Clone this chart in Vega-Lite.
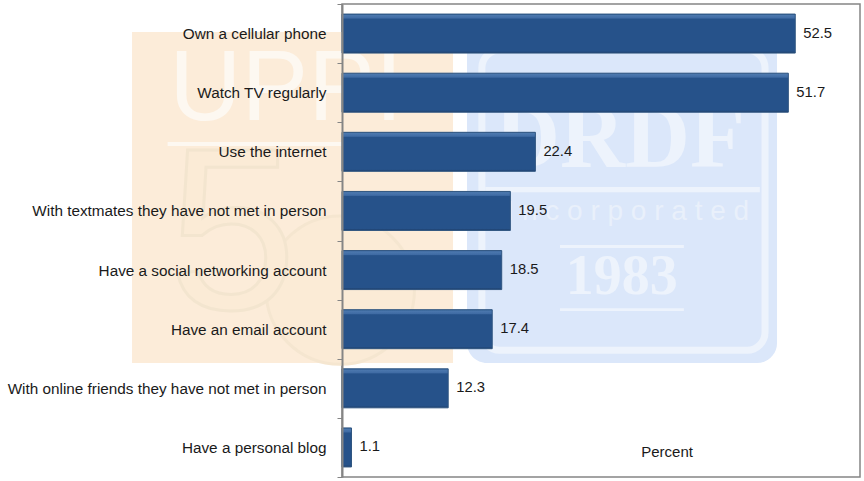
{"$schema":"https://vega.github.io/schema/vega-lite/v6.json","width":518,"height":473,"padding":{"left":342,"top":4,"right":4,"bottom":4},"autosize":"none","background":"white","config":{"font":"Liberation Sans","view":{"stroke":"#858585","strokeWidth":1.5}},"resolve":{"scale":{"y":"independent"}},"layer":[
{"data":{"values":[{"x":-24.32,"x2":12.86,"y":5.9,"y2":75.9}]},"mark":{"type":"rect","color":"#fcecd9"},"encoding":{"x":{"field":"x","type":"quantitative","scale":{"domain":[0,60],"nice":false},"axis":null},"x2":{"field":"x2"},"y":{"field":"y","type":"quantitative","scale":{"domain":[0,100],"reverse":true},"axis":null},"y2":{"field":"y2"}}},
{"data":{"values":[{"x":-0.2,"y":60.5}]},"mark":{"type":"point","filled":true,"fill":"#fbebd6","stroke":"#f5e6d0","strokeWidth":3,"size":22000,"opacity":1},"encoding":{"x":{"field":"x","type":"quantitative","axis":null},"y":{"field":"y","type":"quantitative","scale":{"domain":[0,100],"reverse":true},"axis":null}}},
{"data":{"values":[{"t":"5","x":-12.7,"y":49.9}]},"mark":{"type":"text","fontSize":230,"fill":"#fbebd6","stroke":"#f3e5cf","strokeWidth":3},"encoding":{"x":{"field":"x","type":"quantitative","axis":null},"y":{"field":"y","type":"quantitative","scale":{"domain":[0,100],"reverse":true},"axis":null},"text":{"field":"t"}}},
{"data":{"values":[{"t":"UPPI","x":-6.49,"y":18.2}]},"mark":{"type":"text","fontSize":100,"color":"#fdf8f1"},"encoding":{"x":{"field":"x","type":"quantitative","axis":null},"y":{"field":"y","type":"quantitative","scale":{"domain":[0,100],"reverse":true},"axis":null},"text":{"field":"t"}}},
{"data":{"values":[{"x":-20.2,"x2":6.7,"y":29.2,"y2":30}]},"mark":{"type":"rect","color":"#fdf8f1"},"encoding":{"x":{"field":"x","type":"quantitative","axis":null},"x2":{"field":"x2"},"y":{"field":"y","type":"quantitative","scale":{"domain":[0,100],"reverse":true},"axis":null},"y2":{"field":"y2"}}},
{"data":{"values":[{"x":14.48,"x2":50.39,"y":5.9,"y2":75.9}]},"mark":{"type":"rect","color":"#dbe7fa","cornerRadius":20},"encoding":{"x":{"field":"x","type":"quantitative","axis":null},"x2":{"field":"x2"},"y":{"field":"y","type":"quantitative","scale":{"domain":[0,100],"reverse":true},"axis":null},"y2":{"field":"y2"}}},
{"data":{"values":[{"x":16.2,"x2":49,"y":9.7,"y2":73.2}]},"mark":{"type":"rect","fillOpacity":0,"stroke":"#edf3fc","strokeWidth":7,"cornerRadius":18},"encoding":{"x":{"field":"x","type":"quantitative","axis":null},"x2":{"field":"x2"},"y":{"field":"y","type":"quantitative","scale":{"domain":[0,100],"reverse":true},"axis":null},"y2":{"field":"y2"}}},
{"data":{"values":[{"x":16.6,"x2":48.4,"y":38.7,"y2":39.8},{"x":25.25,"x2":39.6,"y":50.95,"y2":51.6},{"x":25.25,"x2":39.6,"y":64.3,"y2":64.9}]},"mark":{"type":"rect","color":"#edf3fc"},"encoding":{"x":{"field":"x","type":"quantitative","axis":null},"x2":{"field":"x2"},"y":{"field":"y","type":"quantitative","scale":{"domain":[0,100],"reverse":true},"axis":null},"y2":{"field":"y2"}}},
{"data":{"values":[{"t":"DRDF","x":32.2,"y":28.75}]},"mark":{"type":"text","fontSize":90,"fontWeight":"bold","font":"Liberation Serif","color":"#edf3fc"},"encoding":{"x":{"field":"x","type":"quantitative","axis":null},"y":{"field":"y","type":"quantitative","scale":{"domain":[0,100],"reverse":true},"axis":null},"text":{"field":"t"}}},
{"data":{"values":[{"t":"I n c o r p o r a t e d","x":33.1,"y":44}]},"mark":{"type":"text","fontSize":28,"color":"#e9f0fb"},"encoding":{"x":{"field":"x","type":"quantitative","axis":null},"y":{"field":"y","type":"quantitative","scale":{"domain":[0,100],"reverse":true},"axis":null},"text":{"field":"t"}}},
{"data":{"values":[{"t":"1983","x":32.4,"y":57.7}]},"mark":{"type":"text","fontSize":56,"fontWeight":"bold","font":"Liberation Serif","color":"#edf3fc"},"encoding":{"x":{"field":"x","type":"quantitative","axis":null},"y":{"field":"y","type":"quantitative","scale":{"domain":[0,100],"reverse":true},"axis":null},"text":{"field":"t"}}},
{"data":{"name":"main","values":[{"item":"Own a cellular phone","percent":52.5},{"item":"Watch TV regularly","percent":51.7},{"item":"Use the internet","percent":22.4},{"item":"With textmates they have not met in person","percent":19.5},{"item":"Have a social networking account","percent":18.5},{"item":"Have an email account","percent":17.4},{"item":"With online friends they have not met in person","percent":12.3},{"item":"Have a personal blog","percent":1.1}]},"mark":{"type":"bar","height":39,"stroke":"#2f5580","strokeWidth":1,"color":{"gradient":"linear","x1":0,"y1":0,"x2":0,"y2":1,"stops":[{"offset":0,"color":"#2d5c96"},{"offset":0.03,"color":"#4c78ae"},{"offset":0.1,"color":"#406ca5"},{"offset":0.13,"color":"#26528a"},{"offset":0.95,"color":"#26528a"},{"offset":1,"color":"#1d3d68"}]}},"encoding":{"y":{"field":"item","type":"nominal","sort":null,"title":null,"scale":{"paddingInner":0,"paddingOuter":0},"axis":{"zindex":1,"labelFontSize":15.3,"labelColor":"#1a1a1a","tickColor":"#858585","domainColor":"#858585","domainWidth":2,"tickSize":5,"tickBand":"extent","labelPadding":11,"labelLimit":400}},"x":{"field":"percent","type":"quantitative","axis":null}}},
{"data":{"name":"main"},"mark":{"type":"text","align":"left","dx":8,"fontSize":14.8,"color":"#1a1a1a"},"encoding":{"y":{"field":"item","type":"nominal","sort":null,"scale":{"paddingInner":0,"paddingOuter":0},"axis":null},"x":{"field":"percent","type":"quantitative","axis":null},"text":{"field":"percent","type":"quantitative","format":".1f"}}},
{"data":{"values":[{"t":"Percent","x":37.65,"y":94.7}]},"mark":{"type":"text","fontSize":15,"color":"#1a1a1a"},"encoding":{"x":{"field":"x","type":"quantitative","axis":null},"y":{"field":"y","type":"quantitative","scale":{"domain":[0,100],"reverse":true},"axis":null},"text":{"field":"t"}}}
]}
